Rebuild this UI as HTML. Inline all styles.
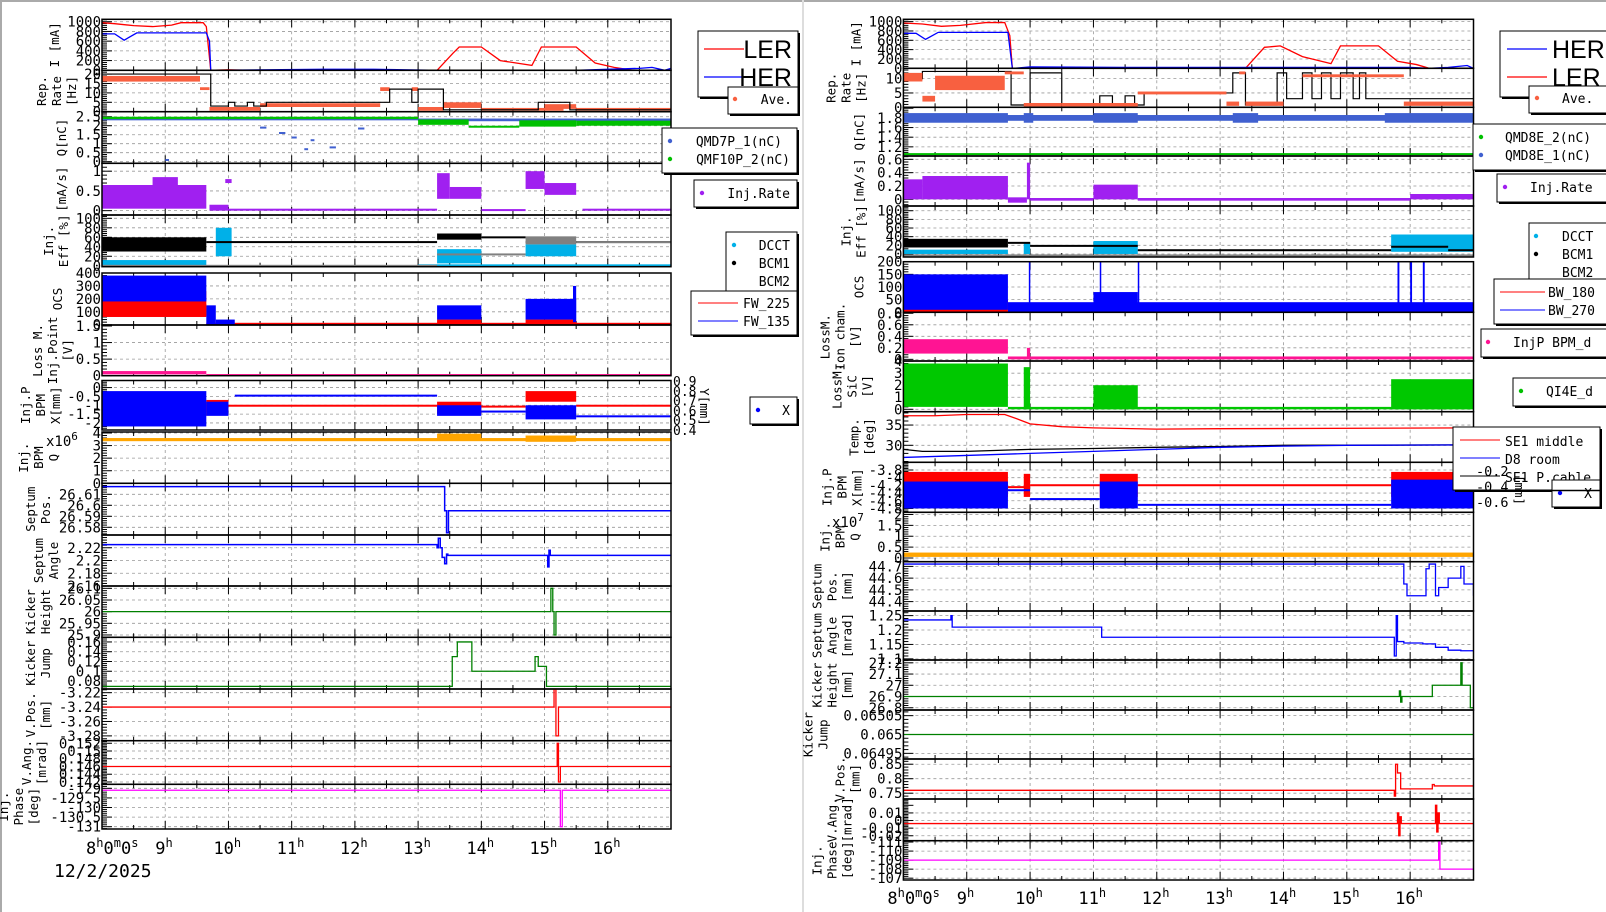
<!DOCTYPE html>
<html><head><meta charset="utf-8"><title>SuperKEKB injection monitor</title>
<style>
html,body{margin:0;padding:0;background:#fff;}
svg{display:block;font-family:"DejaVu Sans Mono","Liberation Mono",monospace;}
.lg{font-size:13px;fill:#000;}
</style></head>
<body>
<svg id="chart" width="1606" height="912" viewBox="0 0 1606 912" xmlns="http://www.w3.org/2000/svg">
<rect x="0" y="0" width="1606" height="912" fill="#fff"/>
<line x1="0" y1="1" x2="1606" y2="1" stroke="#aaa" stroke-width="2"/>
<line x1="1" y1="0" x2="1" y2="912" stroke="#aaa" stroke-width="2"/>
<line x1="803" y1="0" x2="803" y2="912" stroke="#ddd" stroke-width="2"/>
<g id="plots"></g>

<!-- left legends -->
<g>
 <g>
  <rect x="700" y="33" width="100" height="66" fill="#000"/><rect x="698" y="31" width="100" height="66" fill="#fff" stroke="#000"/>
  <line x1="704" y1="49" x2="744" y2="49" stroke="#f00" stroke-width="1.2"/><text x="792" y="58" text-anchor="end" font-size="25" font-family="Liberation Sans Narrow,Liberation Sans,sans-serif">LER</text>
  <line x1="704" y1="77" x2="744" y2="77" stroke="#00f" stroke-width="1.2"/><text x="792" y="86" text-anchor="end" font-size="25" font-family="Liberation Sans Narrow,Liberation Sans,sans-serif">HER</text>
 </g>
 <g>
  <rect x="730" y="89" width="70" height="27" fill="#000"/><rect x="728" y="87" width="70" height="27" fill="#fff" stroke="#000"/>
  <circle cx="735" cy="99" r="2.2" fill="#f86040"/><text class="lg" x="792" y="104" text-anchor="end">Ave.</text>
 </g>
 <g>
  <rect x="664" y="130" width="135" height="45" fill="#000"/><rect x="662" y="128" width="135" height="45" fill="#fff" stroke="#000"/>
  <circle cx="670" cy="141" r="2.2" fill="#4060d0"/><text class="lg" x="782" y="146" text-anchor="end">QMD7P_1(nC)</text>
  <circle cx="670" cy="159" r="2.2" fill="#00c000"/><text class="lg" x="790" y="164" text-anchor="end">QMF10P_2(nC)</text>
 </g>
 <g>
  <rect x="696" y="182" width="103" height="27" fill="#000"/><rect x="694" y="180" width="103" height="27" fill="#fff" stroke="#000"/>
  <circle cx="702" cy="193" r="2.2" fill="#a020f0"/><text class="lg" x="790" y="198" text-anchor="end">Inj.Rate</text>
 </g>
 <g>
  <rect x="728" y="234" width="71" height="63" fill="#000"/><rect x="726" y="232" width="71" height="63" fill="#fff" stroke="#000"/>
  <circle cx="734" cy="245" r="2.2" fill="#00b0e8"/><text class="lg" x="790" y="250" text-anchor="end">DCCT</text>
  <circle cx="734" cy="263" r="2.2" fill="#000"/><text class="lg" x="790" y="268" text-anchor="end">BCM1</text>
  <text class="lg" x="790" y="286" text-anchor="end">BCM2</text>
 </g>
 <g>
  <rect x="693" y="293" width="106" height="44" fill="#000"/><rect x="691" y="291" width="106" height="44" fill="#fff" stroke="#000"/>
  <line x1="698" y1="303" x2="738" y2="303" stroke="#f00"/><text class="lg" x="790" y="308" text-anchor="end">FW_225</text>
  <line x1="698" y1="321" x2="738" y2="321" stroke="#00f"/><text class="lg" x="790" y="326" text-anchor="end">FW_135</text>
 </g>
 <g>
  <rect x="752" y="399" width="47" height="27" fill="#000"/><rect x="750" y="397" width="47" height="27" fill="#fff" stroke="#000"/>
  <circle cx="758" cy="410" r="2.2" fill="#00f"/><text class="lg" x="790" y="415" text-anchor="end">X</text>
 </g>
</g>

<!-- right legends -->
<g>
 <g>
  <rect x="1502" y="33" width="110" height="66" fill="#000"/><rect x="1500" y="31" width="110" height="66" fill="#fff" stroke="#000"/>
  <line x1="1507" y1="49" x2="1547" y2="49" stroke="#00f" stroke-width="1.2"/><text x="1552" y="58" font-size="25" font-family="Liberation Sans Narrow,Liberation Sans,sans-serif">HER</text>
  <line x1="1507" y1="77" x2="1547" y2="77" stroke="#f00" stroke-width="1.2"/><text x="1552" y="86" font-size="25" font-family="Liberation Sans Narrow,Liberation Sans,sans-serif">LER</text>
 </g>
 <g>
  <rect x="1531" y="88" width="80" height="27" fill="#000"/><rect x="1529" y="86" width="80" height="27" fill="#fff" stroke="#000"/>
  <circle cx="1537" cy="98" r="2.2" fill="#f86040"/><text class="lg" x="1562" y="103">Ave.</text>
 </g>
 <g>
  <rect x="1475" y="126" width="135" height="46" fill="#000"/><rect x="1473" y="124" width="135" height="46" fill="#fff" stroke="#000"/>
  <circle cx="1481" cy="137" r="2.2" fill="#00c000"/><text class="lg" x="1505" y="142">QMD8E_2(nC)</text>
  <circle cx="1481" cy="155" r="2.2" fill="#4060d0"/><text class="lg" x="1505" y="160">QMD8E_1(nC)</text>
 </g>
 <g>
  <rect x="1499" y="176" width="110" height="28" fill="#000"/><rect x="1497" y="174" width="110" height="28" fill="#fff" stroke="#000"/>
  <circle cx="1505" cy="187" r="2.2" fill="#a020f0"/><text class="lg" x="1530" y="192">Inj.Rate</text>
 </g>
 <g>
  <rect x="1531" y="225" width="80" height="63" fill="#000"/><rect x="1529" y="223" width="80" height="63" fill="#fff" stroke="#000"/>
  <circle cx="1536" cy="236" r="2.2" fill="#00b0e8"/><text class="lg" x="1562" y="241">DCCT</text>
  <circle cx="1536" cy="254" r="2.2" fill="#000"/><text class="lg" x="1562" y="259">BCM1</text>
  <text class="lg" x="1562" y="277">BCM2</text>
 </g>
 <g>
  <rect x="1496" y="281" width="114" height="45" fill="#000"/><rect x="1494" y="279" width="114" height="45" fill="#fff" stroke="#000"/>
  <line x1="1500" y1="292" x2="1545" y2="292" stroke="#f00"/><text class="lg" x="1548" y="297">BW_180</text>
  <line x1="1500" y1="310" x2="1545" y2="310" stroke="#00f"/><text class="lg" x="1548" y="315">BW_270</text>
 </g>
 <g>
  <rect x="1483" y="331" width="127" height="28" fill="#000"/><rect x="1481" y="329" width="127" height="28" fill="#fff" stroke="#000"/>
  <circle cx="1488" cy="342" r="2.2" fill="#ff1493"/><text class="lg" x="1513" y="347">InjP BPM_d</text>
 </g>
 <g>
  <rect x="1515" y="380" width="95" height="28" fill="#000"/><rect x="1513" y="378" width="95" height="28" fill="#fff" stroke="#000"/>
  <circle cx="1521" cy="391" r="2.2" fill="#00c000"/><text class="lg" x="1546" y="396">QI4E_d</text>
 </g>
 <g>
  <rect x="1455" y="429" width="147" height="63" fill="#000"/><rect x="1453" y="427" width="147" height="63" fill="#fff" stroke="#000"/>
  <line x1="1460" y1="440" x2="1500" y2="440" stroke="#f00"/><text class="lg" x="1505" y="446">SE1 middle</text>
  <line x1="1460" y1="458" x2="1500" y2="458" stroke="#00f"/><text class="lg" x="1505" y="464">D8 room</text>
  <line x1="1460" y1="476" x2="1500" y2="476" stroke="#000"/><text class="lg" x="1505" y="482">SE1 P.cable</text>
 </g>
 <g>
  <rect x="1554" y="482" width="48" height="27" fill="#000"/><rect x="1552" y="480" width="48" height="27" fill="#fff" stroke="#000"/>
  <circle cx="1560" cy="493" r="2.2" fill="#00f"/><text class="lg" x="1592" y="498" text-anchor="end">X</text>
 </g>
</g>
</svg>
<script>
// ===== LEFT CHART DATA =====
const lLerT=[8,8.2,8.5,8.8,9.1,9.25,9.6,9.65,9.72,10.0,10.3,13.3,13.55,13.65,14.0,14.3,14.8,14.95,15.0,15.5,15.8,16.1,16.4,17];
const lLerV=[980,960,920,900,930,980,980,900,0,10,0,0,350,480,480,200,100,480,480,480,150,60,0,0];
const lHerT=[8,8.2,8.35,8.55,9.65,9.7,9.72,11.5,12.3,13.3,15.5,16.0,16.5,16.7,16.9,17];
const lHerV=[750,750,620,770,770,600,0,20,20,0,0,20,40,60,0,40];
const lRepT=[8,9.72,10.0,10.1,10.3,10.4,10.6,12.4,12.55,12.9,13.0,13.4,14.9,15.3,15.4,17];
const lRepV=[20,3,5,3,5,3,5,5,12,5,12,1,5,5,1,1];
const lRepAve=[[8,9.55,16,19],[9.55,9.7,11.5,13],[9.7,10.5,0.5,2.5],[10.5,12.4,2.5,4.5],[12.4,12.55,11,13],[12.9,13.0,11,13],[13.0,13.4,0.5,2.5],[13.4,14.0,2,5],[14.0,15.3,0.5,2],[15.0,15.5,1.5,4],[15.5,17,0.5,2]];
const lQBlue=[[8,13,2.3,2.45],[13,17,2.25,2.4],[10.5,10.6,1.85,1.95],[10.8,10.9,1.55,1.65],[11.0,11.08,1.3,1.4],[11.3,11.36,1.15,1.25],[11.2,11.26,0.65,0.75],[12.05,12.15,1.8,1.9],[9.0,9.06,0.05,0.15],[11.6,11.7,0.75,0.85]];
const lQGreen=[[8,13,2.37,2.5],[13,13.8,2.05,2.35],[13.8,14.6,1.9,2.0],[14.6,15.5,1.95,2.3],[15.5,17,2.0,2.28]];
const lRate=[[8,9.65,0.05,0.65],[8.8,9.2,0.3,0.85],[9.7,10.0,0.0,0.15],[9.95,10.05,0.7,0.8],[10.0,13.3,0.0,0.05],[13.3,13.5,0.3,0.95],[13.5,14.0,0.3,0.6],[14.0,14.7,0.0,0.04],[14.7,15.0,0.55,1.0],[15.0,15.5,0.4,0.7],[15.6,17,0.0,0.05]];
const lEffCyan=[[8,9.65,0,12],[9.8,10.05,20,80],[13.3,14.0,5,35],[14.7,15.5,20,45],[13,17,0,3]];
const lEffBlack=[[8,9.65,30,60],[9.65,13.3,48,52],[13.3,14.0,55,68],[14.0,14.7,58,62],[14.7,17,48,52]];
const lEffGray=[[8,13.3,0,2],[13.3,14.7,22,26],[14.7,15.5,45,62],[15.5,17,48,52]];
const lOcsRed=[[8,9.65,60,260],[9.65,17,0,15],[13.3,14.0,10,40],[14.7,15.5,10,40]];
const lOcsBlue=[[8,9.65,180,380],[9.65,9.8,0,150],[9.8,10.1,0,40],[13.3,14.0,40,150],[14.7,15.5,40,200],[15.45,15.5,20,300]];
const lLoss=[[8,9.65,0.04,0.14],[9.65,17,0,0.05]];
const lXRed=[[8,9.65,-1.6,-0.8],[9.65,10,-1.4,-0.7],[10,13.3,-1.07,-0.97],[13.3,14,-1.5,-0.8],[14,14.7,-1.12,-1.02],[14.7,15.5,-0.8,-0.2],[15.5,17,-1.07,-0.97]];
const lXBlue=[[8,9.65,-2.2,-0.2],[9.65,10,-1.6,-0.8],[10.1,13.3,-0.5,-0.4],[13.3,14,-1.6,-1.0],[14,14.7,-1.38,-1.3],[14.7,15.5,-1.8,-1.0],[15.5,17,-1.65,-1.57]];
const lBq=[[8,17,3.35,3.6],[13.3,14,3.4,3.95],[14.7,15.5,3.3,3.8]];
const lSpT=[8,13.42,13.45,13.48,17];
const lSpV=[26.617,26.595,26.575,26.595,26.595];
const lSaT=[8,13.3,13.32,13.35,13.38,13.42,13.45,13.47,15.05,15.07,15.09,15.11,17];
const lSaV=[2.225,2.22,2.235,2.22,2.205,2.195,2.21,2.208,2.19,2.216,2.208,2.208,2.208];
const lKhT=[8,15.1,15.13,15.15,15.18,17];
const lKhV=[26,26.1,26,25.9,26,26];
const lKjT=[8,13.54,13.62,13.85,14.85,14.9,15.03,17];
const lKjV=[0.069,0.13,0.16,0.1,0.13,0.11,0.069,0.069];
const lVpT=[8,15.15,15.18,15.22,17];
const lVpV=[-3.24,-3.215,-3.28,-3.24,-3.24];
const lVaT=[8,15.2,15.22,15.25,17];
const lVaV=[0.146,0.152,0.142,0.146,0.146];
const lPhT=[8,15.25,15.28,17];
const lPhV=[-129.1,-131,-129.1,-129.1];
// ===== RIGHT CHART DATA =====
const rHerT=[8,8.2,8.35,8.55,9.65,9.72,9.75,10.0,11.5,13.0,15.5,16.0,16.3,16.6,16.9,17];
const rHerV=[750,750,620,770,770,0,0,30,20,20,20,20,0,20,60,0];
const rLerT=[8,8.3,8.6,8.9,9.3,9.6,9.68,9.72,13.4,13.7,13.95,14.3,14.75,14.9,15.5,15.8,16.1,16.3,17];
const rLerV=[970,950,900,920,980,980,700,0,0,450,480,250,100,480,480,150,80,0,0];
const rRepT=[8,8.3,9.7,10.0,10.5,11.1,11.3,11.5,11.65,11.8,13.2,13.4,13.9,14.05,14.3,14.45,14.6,14.75,14.9,15.1,15.2,15.3,17];
const rRepV=[10,12.5,0.8,12,0.8,4,0.8,4,0.8,5,12,0.8,12,3,12,3,12,3,12,3,12,3,3];
const rRepAve=[[8,8.3,9,12],[8.3,8.5,2,4],[8.5,9.6,6,11],[9.6,9.9,11.5,12.5],[9.9,10.5,0.3,1.5],[10.5,11.7,0.3,1.5],[11.7,13.1,4.5,5.5],[13.1,13.3,0.5,2],[13.3,13.4,11.5,12.5],[13.4,14.0,0.5,2],[14.3,15.9,10.5,11.5],[15.9,17,0.5,2]];
const rQBlue=[[8,17,1.74,1.86],[8,9.65,1.7,1.9],[9.9,10.05,1.7,1.9],[11.0,11.7,1.7,1.9],[13.2,13.6,1.7,1.9],[15.6,17,1.7,1.9]];
const rQGreen=[[8,17,1.03,1.07]];
const rRate=[[8,8.3,0,0.3],[8.3,9.65,0,0.35],[9.65,9.95,-0.05,0.03],[9.95,10.0,0,0.55],[10.0,11.0,-0.02,0.02],[11.0,11.7,0,0.22],[11.7,16.0,-0.02,0.02],[16.0,17,0,0.08]];
const rEffCyan=[[8,9.65,0,10],[9.9,10,0,25],[11.0,11.7,0,30],[15.7,17,5,45]];
const rEffBlack=[[8,9.65,15,35],[9.65,10.0,25,28],[10,11.7,18,21],[11.7,15.7,8,11],[15.7,16.6,16,19],[16.6,17,8,11]];
const rEffGray=[[8,17,-4,-1]];
const rOcsRed=[[8,9.65,0,50],[9.65,17,0,5]];
const rOcsBlue=[[8,9.65,10,150],[9.65,17,0,40],[11.0,11.7,0,80],[9.98,10.0,0,200],[11.1,11.12,0,200],[11.7,11.72,0,200],[15.8,15.83,0,200],[16.0,16.03,0,200],[16.2,16.23,0,200]];
const rIon=[[8,9.65,0.1,0.35],[9.65,17,0,0.05],[9.95,10.0,0,0.2]];
const rSic=[[8,9.65,0.2,3.8],[9.65,17,0,0.2],[9.9,10.0,0,3.5],[11.0,11.7,0,2],[15.7,17,0,2.5]];
const rTmpRedT=[8,8.5,9.0,9.6,9.8,10.0,10.5,11,12,13,17];
const rTmpRedV=[37.3,37.3,37.6,37.6,36.5,35.3,34.6,34.3,34,34.1,34.3];
const rTmpBlkT=[8,8.3,9,10,11,12,13,14,17];
const rTmpBlkV=[29,28.5,28.5,29,29.2,29.5,29.7,30,30.1];
const rTmpBluT=[8,9,10,11,12,13,14,15,17];
const rTmpBluV=[27,27.5,28,28.5,29,29.5,29.8,30,30.1];
const rXRed=[[8,9.65,-4.5,-3.85],[9.65,10.0,-4.27,-4.22],[9.9,10.0,-4.5,-3.9],[10,11.1,-4.22,-4.17],[11.1,11.7,-4.5,-3.9],[11.7,15.7,-4.22,-4.17],[15.7,17,-4.5,-3.85]];
const rXBlue=[[8,9.65,-4.8,-4.1],[9.65,10,-4.35,-4.3],[10,11.1,-4.57,-4.53],[11.1,11.7,-4.8,-4.1],[11.7,15.7,-4.72,-4.68],[15.7,17,-4.8,-4.05]];
const rBq=[[8,17,0.05,0.25]];
const rSpT=[8,15.9,15.95,16.0,16.25,16.3,16.4,16.45,16.5,16.6,16.8,16.85,17];
const rSpV=[44.72,44.55,44.45,44.45,44.68,44.72,44.45,44.52,44.52,44.6,44.7,44.55,44.45];
const rSaT=[8,8.75,8.77,11.1,11.13,15.75,15.78,15.8,15.9,16.2,16.4,16.6,16.8,17];
const rSaV=[1.235,1.25,1.21,1.21,1.175,1.11,1.25,1.16,1.155,1.152,1.14,1.13,1.128,1.128];
const rKhT=[8,15.83,15.85,15.87,16.35,16.8,16.82,16.95,17];
const rKhV=[26.9,26.95,26.85,26.9,27.0,27.2,27.0,26.8,26.8];
const rKjT=[8,17];
const rKjV=[0.065,0.065];
const rVpT=[8,15.75,15.77,15.8,15.85,16.35,16.38,16.42,17];
const rVpV=[0.76,0.74,0.85,0.82,0.765,0.78,0.775,0.775,0.775];
const rVaT=[8,15.8,15.82,15.84,15.86,16.4,16.42,16.44,16.46,17];
const rVaV=[-0.004,0.01,-0.02,0.005,-0.004,0.02,-0.015,0.01,-0.004,-0.004];
const rPhT=[8,16.45,16.47,17];
const rPhV=[-109,-111.1,-108,-108];
// tick label arrays
const hourTicks=[9,10,11,12,13,14,15,16];
const tkI=[0,200,400,600,800,1000];
const tkRepL=[0,5,10,15,20];
const tkQL=[0,0.5,1,1.5,2,2.5];
const tkRateL=[0,0.5,1];
const tkEff=[0,20,40,60,80,100];
const tkOcsL=[0,100,200,300,400];
const tkLoss=[0,0.5,1,1.5];
const tkXL=[-2,-1.5,-1,-0.5,0];
const tkBqL=[0,1,2,3,4];
const tkSpL=[26.58,26.59,26.6,26.61];
const tkSaL=[2.16,2.18,2.2,2.22];
const tkKhL=[25.9,25.95,26,26.05,26.1];
const tkKjL=[0.08,0.1,0.12,0.14,0.16];
const tkVpL=[-3.28,-3.26,-3.24,-3.22];
const tkVaL=[0.142,0.144,0.146,0.148,0.15,0.152];
const tkPhL=[-131,-130.5,-130,-129.5,-129];
const tkRepR=[0,5,10];
const tkQR=[1.2,1.4,1.6,1.8];
const tkRateR=[0,0.2,0.4,0.6];
const tkOcsR=[0,50,100,150,200];
const tkIon=[0,0.2,0.4,0.6,0.8];
const tkSic=[0,1,2,3,4];
const tkTmp=[30,35];
const tkXR=[-4.8,-4.6,-4.4,-4.2,-4,-3.8];
const tkBqR=[0,0.5,1,1.5,2];
const tkSpR=[44.4,44.5,44.6,44.7];
const tkSaR=[1.1,1.15,1.2,1.25];
const tkKhR=[26.8,26.9,27,27.1,27.2];
const tkKjR=[0.06495,0.065,0.06505];
const tkVpR=[0.75,0.8,0.85];
const tkVaR=[-0.02,-0.01,0,0.01];
const tkPhR=[-111,-110,-109,-108,-107];
const lyR=[0.4,0.5,0.6,0.7,0.8,0.9];
const ryR=[-0.2,-0.4,-0.6];

const NS='http://www.w3.org/2000/svg';
const svgRoot=document.getElementById('chart');
const root=document.getElementById('plots');
let clipId=0;
function mk(tag,parent){const e=document.createElementNS(NS,tag);parent.appendChild(e);return e;}
function fmt(v){return String(+v.toPrecision(6));}

function panel(side,name,x0,x1,y0,y1,top,bot,ticks,title,tx){
  const p={x0,x1,y0,y1,top,bot};
  p.X=t=>x0+(t-8)/9*(x1-x0);
  p.Y=v=>y0+(top-v)/(top-bot)*(y1-y0);
  const g=mk('g',root);
  
  
  p.g=g;
  hourTicks.forEach(h=>{
    const l=mk('line',g);
    l.setAttribute('x1',p.X(h));l.setAttribute('x2',p.X(h));l.setAttribute('y1',y0);l.setAttribute('y2',y1);
    l.setAttribute('stroke','#999');l.setAttribute('stroke-dasharray','3,3');l.setAttribute('stroke-width','0.8');
    
    
  });
  const lo=Math.min(top,bot),hi=Math.max(top,bot);
  ticks.forEach(v=>{
    const y=p.Y(v);
    if(y>y0+1&&y<y1-1){
      const l=mk('line',g);
      l.setAttribute('x1',x0);l.setAttribute('x2',x1);l.setAttribute('y1',y);l.setAttribute('y2',y);
      l.setAttribute('stroke','#999');l.setAttribute('stroke-dasharray','3,3');l.setAttribute('stroke-width','0.8');
      
      
    }
  });
  const step=ticks.length>1?(ticks[1]-ticks[0]):1;
  for(let k=-5;k<ticks.length*5+5;k++){
    const v=ticks[0]+k*step/5;
    if(v<lo||v>hi)continue;
    const y=p.Y(v);
    const major=k%5===0;
    const l=mk('line',g);
    l.setAttribute('x1',x0);l.setAttribute('x2',x0+(major?10:5));l.setAttribute('y1',y);l.setAttribute('y2',y);
    l.setAttribute('stroke','#000');l.setAttribute('stroke-width','1');
    
    
  }
  for(let q=8;q<=17;q+=0.5){
    const x=p.X(q);const len=(q%1===0)?8:4;
    [[y1,y1-len],[y0,y0+len]].forEach(([a,b])=>{
      const l=mk('line',g);
      l.setAttribute('x1',x);l.setAttribute('x2',x);l.setAttribute('y1',a);l.setAttribute('y2',b);
      l.setAttribute('stroke','#000');l.setAttribute('stroke-width','1');
      
      
    });
  }
  ticks.forEach(v=>{
    const t=mk('text',g);
    t.setAttribute('x',x0-1);t.setAttribute('y',p.Y(v)+5);t.setAttribute('text-anchor','end');
    t.setAttribute('font-size','14');
    t.textContent=fmt(v);
    
    
  });
  const cp=mk('clipPath',g);const cid='cp'+(clipId++);cp.setAttribute('id',cid);
  const cr=mk('rect',cp);cr.setAttribute('x',x0);cr.setAttribute('y',y0);cr.setAttribute('width',x1-x0);cr.setAttribute('height',y1-y0);
  p.data=mk('g',g);p.data.setAttribute('clip-path','url(#'+cid+')');
  
  
  const tt=mk('text',g);
  const cy=(y0+y1)/2;
  tt.setAttribute('transform','translate('+(x0-tx)+','+cy+') rotate(-90)');
  tt.setAttribute('text-anchor','middle');tt.setAttribute('font-size','12.5');
  title.forEach((s,i)=>{const ts=mk('tspan',tt);ts.setAttribute('x','0');ts.setAttribute('dy',i===0?(-(title.length-1)*15)+'':'15');ts.textContent=s;});
  
  
  p.frame=()=>{
    const r=mk('rect',g);
    r.setAttribute('x',x0);r.setAttribute('y',y0);r.setAttribute('width',x1-x0);r.setAttribute('height',y1-y0);
    r.setAttribute('fill','none');r.setAttribute('stroke','#000');r.setAttribute('stroke-width','1.5');
    
    
  };
  return p;
}
function band(p,segs,color,name){
  segs.forEach(s=>{
    const r=mk('rect',p.data);
    const xa=p.X(s[0]),xb=p.X(s[1]);
    const ya=p.Y(s[3]),yb=p.Y(s[2]);
    const y=Math.min(ya,yb),h=Math.max(2,Math.abs(yb-ya));
    r.setAttribute('x',xa);r.setAttribute('y',y);r.setAttribute('width',Math.max(1.5,xb-xa));r.setAttribute('height',h);
    r.setAttribute('fill',color);
    
    
  });
}
function line(p,ts,vs,color,name,step,w){
  let pts=[];
  for(let i=0;i<ts.length;i++){
    if(step&&i>0)pts.push(p.X(ts[i])+','+p.Y(vs[i-1]));
    pts.push(p.X(ts[i])+','+p.Y(vs[i]));
  }
  const pl=mk('polyline',p.data);
  pl.setAttribute('points',pts.join(' '));
  pl.setAttribute('fill','none');pl.setAttribute('stroke',color);pl.setAttribute('stroke-width',w||1.3);
  
  
}
function xlabels(x0,x1,yb,side){
  const X=t=>x0+(t-8)/9*(x1-x0);
  const g=mk('g',root);
  
  
  const t0=mk('text',g);
  t0.setAttribute('x',X(8)-16);t0.setAttribute('y',yb);t0.setAttribute('font-size','17');
  t0.innerHTML='8<tspan dy="-7" font-size="12">h</tspan><tspan dy="7">0</tspan><tspan dy="-7" font-size="12">m</tspan><tspan dy="7">0</tspan><tspan dy="-7" font-size="12">s</tspan>';
  
  
  hourTicks.forEach(h=>{
    const t=mk('text',g);
    const s=String(h);
    t.setAttribute('x',X(h)-(s.length>1?15:10));t.setAttribute('y',yb);t.setAttribute('font-size','17');
    t.innerHTML=s+'<tspan dy="-7" font-size="12">h</tspan>';
    
    
  });
}

// ===== LEFT =====
const LX0=102,LX1=671;
let p;
p=panel('left','current',LX0,LX1,19.3,70.3,1050,0,tkI,['I [mA]'],43);
line(p,lLerT,lLerV,'#f00','ler-current',false);line(p,lHerT,lHerV,'#00f','her-current',false);p.frame();
p=panel('left','rep-rate',LX0,LX1,70.3,111.7,22,0,tkRepL,['Rep.','Rate','[Hz]'],26);
band(p,lRepAve,'#f86040','rep-rate-ave');line(p,lRepT,lRepV,'#000','rep-rate-line',true,1.2);p.frame();
p=panel('left','charge',LX0,LX1,111.7,163.3,2.78,-0.09,tkQL,['Q[nC]'],36);
band(p,lQBlue,'#4060d0','qmd7p');band(p,lQGreen,'#00c000','qmf10p');p.frame();
p=panel('left','inj-rate',LX0,LX1,163.3,215,1.2,-0.11,tkRateL,['[mA/s]'],36);
band(p,lRate,'#a020f0','inj-rate');p.frame();
p=panel('left','inj-eff',LX0,LX1,215,266.7,107,-2,tkEff,['Inj.','Eff [%]'],34);
band(p,lEffCyan,'#00b0e8','dcct');band(p,lEffBlack,'#000','bcm1');band(p,lEffGray,'#808080','bcm2');p.frame();
p=panel('left','ocs',LX0,LX1,273,325,400,-2,tkOcsL,['OCS'],40);
band(p,lOcsRed,'#f00','fw225');band(p,lOcsBlue,'#00f','fw135');band(p,[[8,9.65,70,160]],'#f00','fw225-overlap');p.frame();
p=panel('left','loss-monitor',LX0,LX1,325,375.7,1.53,0,tkLoss,['Loss M.','Inj.Point','[V]'],30);
band(p,lLoss,'#ff1493','loss-inj-point');p.frame();
p=panel('left','bpm-x',LX0,LX1,380.5,430,0.4,-2.4,tkXL,['Inj.P','BPM','X[mm]'],42);
band(p,lXRed,'#f00','bpm-y');band(p,lXBlue,'#00f','bpm-x');p.frame();
p=panel('left','bpm-q',LX0,LX1,432,483.3,4.08,0,tkBqL,['Inj.','BPM','Q'],44);
band(p,lBq,'#ffa500','bpm-q');p.frame();
p=panel('left','septum-pos',LX0,LX1,483.3,535,26.62,26.573,tkSpL,['Septum','Pos.'],52);
line(p,lSpT,lSpV,'#00f','septum-pos-line',true,1.5);p.frame();
p=panel('left','septum-angle',LX0,LX1,535,586,2.24,2.16,tkSaL,['Septum','Angle'],44);
line(p,lSaT,lSaV,'#00f','septum-angle-line',true,1.5);p.frame();
p=panel('left','kicker-height',LX0,LX1,586,637.3,26.11,25.89,tkKhL,['Kicker','Height'],52);
line(p,lKhT,lKhV,'#008000','kicker-height-line',true,1.3);p.frame();
p=panel('left','kicker-jump',LX0,LX1,637.3,689,0.1695,0.0637,tkKjL,['Kicker','Jump'],52);
line(p,lKjT,lKjV,'#008000','kicker-jump-line',true,1.3);p.frame();
p=panel('left','v-pos',LX0,LX1,689,740.7,-3.2149,-3.2867,tkVpL,['V.Pos.','[mm]'],52);
line(p,lVpT,lVpV,'#f00','v-pos-line',true,1.3);p.frame();
p=panel('left','v-ang',LX0,LX1,740.7,784.3,0.15266,0.1414,tkVaL,['V.Ang.','[mrad]'],56);
line(p,lVaT,lVaV,'#f00','v-ang-line',true,1.3);p.frame();
p=panel('left','phase',LX0,LX1,784.3,829,-128.79,-131.12,tkPhL,['Inj.','Phase','[deg]'],64);
line(p,lPhT,lPhV,'#ff00ff','phase-line',true,1.3);p.frame();
xlabels(LX0,LX1,854,'left');

// ===== RIGHT =====
const RX0=903.4,RX1=1473.5;
p=panel('right','current',RX0,RX1,19.3,68.3,1050,0,tkI,['I [mA]'],43);
line(p,rLerT,rLerV,'#f00','ler-current',false);line(p,rHerT,rHerV,'#00f','her-current',false);p.frame();
p=panel('right','rep-rate',RX0,RX1,68.3,107.3,13.6,0,tkRepR,['Rep.','Rate','[Hz]'],38);
line(p,rRepT,rRepV,'#000','rep-rate-line',true,1.2);band(p,rRepAve,'#f86040','rep-rate-ave');p.frame();
p=panel('right','charge',RX0,RX1,107.3,156,2.02,1.01,tkQR,['Q[nC]'],40);
band(p,rQBlue,'#4060d0','qmd8e1');band(p,rQGreen,'#00c000','qmd8e2');p.frame();
p=panel('right','inj-rate',RX0,RX1,156,206,0.65,-0.1,tkRateR,['[mA/s]'],40);
band(p,rRate,'#a020f0','inj-rate');p.frame();
p=panel('right','inj-eff',RX0,RX1,206,257,110.9,-7,tkEff,['Inj.','Eff [%]'],38);
band(p,rEffCyan,'#00b0e8','dcct');band(p,rEffBlack,'#000','bcm1');band(p,rEffGray,'#808080','bcm2');p.frame();
p=panel('right','ocs',RX0,RX1,261.7,312.3,200,0,tkOcsR,['OCS'],40);
band(p,rOcsRed,'#f00','bw180');band(p,rOcsBlue,'#00f','bw270');p.frame();
p=panel('right','ion-chamber',RX0,RX1,312.3,361,0.817,-0.0287,tkIon,['LossM.','Ion cham.','[V]'],44);
band(p,rIon,'#ff1493','injp-bpm-d');p.frame();
p=panel('right','sic',RX0,RX1,361,411.7,4.01,-0.2,tkSic,['LossM.','SiC','[V]'],32);
band(p,rSic,'#00c800','qi4e-d');p.frame();
p=panel('right','temperature',RX0,RX1,411.7,462.3,38.3,25.8,tkTmp,['Temp.','[deg]'],30);
line(p,rTmpRedT,rTmpRedV,'#f00','se1-middle',false);line(p,rTmpBlkT,rTmpBlkV,'#000','se1-pcable',false);line(p,rTmpBluT,rTmpBluV,'#00f','d8-room',false);p.frame();
p=panel('right','bpm-x',RX0,RX1,462.3,512.3,-3.6,-4.9,tkXR,['Inj.P','BPM','X[mm]'],42);
band(p,rXRed,'#f00','bpm-y');band(p,rXBlue,'#00f','bpm-x');p.frame();
p=panel('right','bpm-q',RX0,RX1,512.3,561.7,2.1,-0.17,tkBqR,['Inj.','BPM','Q'],44);
band(p,rBq,'#ffa500','bpm-q');p.frame();
p=panel('right','septum-pos',RX0,RX1,561.7,611,44.74,44.32,tkSpR,['Septum','Pos.','[mm]'],52);
line(p,rSpT,rSpV,'#00f','septum-pos-line',true,1.3);p.frame();
p=panel('right','septum-angle',RX0,RX1,611,660,1.266,1.096,tkSaR,['Septum','Angle','[mrad]'],52);
line(p,rSaT,rSaV,'#00f','septum-angle-line',true,1.3);p.frame();
p=panel('right','kicker-height',RX0,RX1,660,710,27.225,26.78,tkKhR,['Kicker','Height','[mm]'],52);
line(p,rKhT,rKhV,'#008000','kicker-height-line',true,1.3);p.frame();
p=panel('right','kicker-jump',RX0,RX1,710,759,0.065065,0.064935,tkKjR,['Kicker','Jump'],76);
line(p,rKjT,rKjV,'#008000','kicker-jump-line',true,1.3);p.frame();
p=panel('right','v-pos',RX0,RX1,759,799,0.868,0.73,tkVpR,['V.Pos.','[mm]'],44);
line(p,rVpT,rVpV,'#f00','v-pos-line',true,1.3);p.frame();
p=panel('right','v-ang',RX0,RX1,799,840.7,0.0283,-0.0265,tkVaR,['V.Ang.','[mrad]'],52);
line(p,rVaT,rVaV,'#f00','v-ang-line',true,1.3);p.frame();
p=panel('right','phase',RX0,RX1,840.7,880,-111.15,-106.8,tkPhR,['Inj.','Phase','[deg]'],52);
line(p,rPhT,rPhV,'#ff00ff','phase-line',true,1.3);p.frame();
xlabels(RX0,RX1,904,'right');

// extra labels drawn on top of legends
const extra=mk('g',svgRoot);


function txt(x,y,s,size,name,anchor,rot){
  const t=mk('text',extra);
  t.setAttribute('x',x);t.setAttribute('y',y);t.setAttribute('font-size',size);
  if(anchor)t.setAttribute('text-anchor',anchor);
  if(rot)t.setAttribute('transform','rotate('+rot+','+x+','+y+')');
  t.innerHTML=s;
  
  
}
const bl=mk('line',extra);
bl.setAttribute('x1',1474);bl.setAttribute('x2',1600);bl.setAttribute('y1',490.5);bl.setAttribute('y2',490.5);
bl.setAttribute('stroke','#000');bl.setAttribute('stroke-width','1.5');


txt(54,877,'12/2/2025','18','date-label');
txt(46,446,'x10<tspan dy="-6" font-size="11">6</tspan>','14','left-bpm-q-exponent');
txt(832,527,'x10<tspan dy="-6" font-size="11">7</tspan>','14','right-bpm-q-exponent');
lyR.forEach(v=>{txt(673,430-(v-0.4)/0.5*49+5,String(v),'13','left-bpm-y-tick-label');});
txt(700,407,'Y[mm]','12.5','left-bpm-y-axis-title','middle',90);
ryR.forEach((v,i)=>{txt(1476,476+i*15.5,String(v),'13.5','right-bpm-y-tick-label');});
txt(1515,490,'[mm]','12.5','right-bpm-y-axis-title','middle',90);
</script>
</body></html>
